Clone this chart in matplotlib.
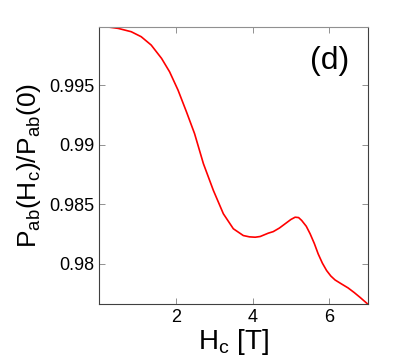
import matplotlib
matplotlib.use("Agg")
import matplotlib.pyplot as plt

plt.rcParams['font.family'] = ['Liberation Sans', 'DejaVu Sans']
plt.rcParams['mathtext.fontset'] = 'custom'
plt.rcParams['mathtext.rm'] = 'Liberation Sans'
plt.rcParams['mathtext.it'] = 'Liberation Sans'

# Data
field_T = [0.0, 0.25, 0.50, 0.84, 1.10, 1.36, 1.63, 1.84, 2.06, 2.28, 2.49, 2.72, 2.98,
           3.24, 3.50, 3.76, 3.92, 4.07, 4.20, 4.41, 4.54, 4.70, 4.85, 5.00, 5.11, 5.20,
           5.28, 5.40, 5.50, 5.61, 5.71, 5.82, 5.93, 6.04, 6.15, 6.32, 6.49, 6.65, 6.80, 7.0]
ratio = [0.99991, 0.99988, 0.99977, 0.99949, 0.99907, 0.99837, 0.99725, 0.99612, 0.99458,
         0.99275, 0.99093, 0.98841, 0.98616, 0.98420, 0.98294, 0.98237, 0.98226, 0.98223,
         0.98229, 0.98257, 0.98270, 0.98300, 0.98336, 0.98372, 0.98391, 0.98388, 0.98364,
         0.98315, 0.98252, 0.98170, 0.98083, 0.98005, 0.97943, 0.97897, 0.97864, 0.97830,
         0.97797, 0.97758, 0.97718, 0.97662]

xticks = [2, 4, 6]
xtick_labels = ['2', '4', '6']
yticks = [0.98, 0.985, 0.99, 0.995]
ytick_labels = ['0.98', '0.985', '0.99', '0.995']

fig = plt.figure(figsize=(4.07, 3.62), dpi=100)
ax = fig.add_axes([0.2432, 0.1602, 0.9034 - 0.2432, 0.9262 - 0.1602])

ax.plot(field_T, ratio, color='red', linewidth=1.2, solid_joinstyle='round')
ax.set_xlim(0, 7)
ax.set_ylim(min(ratio), max(ratio))

ax.set_xticks(xticks)
ax.set_xticklabels(xtick_labels)
ax.set_yticks(yticks)
ax.set_yticklabels(ytick_labels)

for s in ax.spines.values():
    s.set_color('#404040')
    s.set_linewidth(0.8)
ax.spines['top'].set_color('#909090')
ax.tick_params(direction='in', length=4, width=0.6, colors='#808080',
               top=True, right=True, labelsize=13, labelcolor='black')

ax.set_xlabel(r'H$_\mathregular{c}$ [T]', fontsize=20, labelpad=1)
ax.set_ylabel(r'P$_\mathregular{ab}$(H$_\mathregular{c}$)/P$_\mathregular{ab}$(0)', fontsize=19, labelpad=4)
ax.text(0.86, 0.875, '(d)', transform=ax.transAxes, fontsize=23, ha='center', va='center')

fig.savefig('out.png', dpi=100)
